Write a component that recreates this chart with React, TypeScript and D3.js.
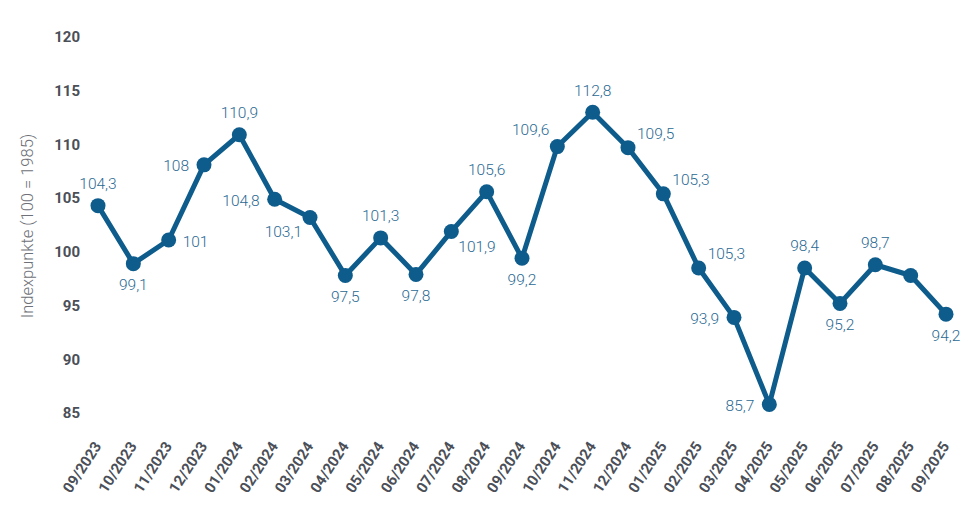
import React, { useEffect, useRef } from "react";
import * as d3 from "d3";

const months = [
  "09/2023", "10/2023", "11/2023", "12/2023", "01/2024", "02/2024", "03/2024",
  "04/2024", "05/2024", "06/2024", "07/2024", "08/2024", "09/2024", "10/2024",
  "11/2024", "12/2024", "01/2025", "02/2025", "03/2025", "04/2025", "05/2025",
  "06/2025", "07/2025", "08/2025", "09/2025",
];
const values = [
  104.3, 98.9, 101.1, 108.1, 110.9, 104.9, 103.2, 97.8, 101.3, 97.9, 101.9,
  105.6, 99.4, 109.8, 113.0, 109.7, 105.4, 98.5, 93.9, 85.8, 98.5, 95.2, 98.8,
  97.8, 94.2,
];
const labels = [
  "104,3", "99,1", "101", "108", "110,9", "104,8", "103,1", "97,5", "101,3",
  "97,8", "101,9", "105,6", "99,2", "109,6", "112,8", "109,5", "105,3", "105,3",
  "93,9", "85,7", "98,4", "95,2", "98,7", "", "94,2",
];
const placement = [
  "t", "b", "r", "l", "t", "l", "bl", "b", "t", "b", "br", "t", "b", "tl",
  "t", "tr", "tr", "tr", "l", "l", "t", "b", "t", "", "b",
];
const yTicks = [85, 90, 95, 100, 105, 110, 115, 120];

const place: Record<string, [number, number, string]> = {
  t: [0, -22, "middle"],
  b: [0, 21, "middle"],
  l: [-15, 1, "end"],
  r: [14, 2, "start"],
  tl: [-8, -17, "end"],
  tr: [9, -14, "start"],
  bl: [-8, 14, "end"],
  br: [7, 15, "start"],
};

const W = 975;
const H = 526;
const lineColor = "#0d5c8c";
const tickColor = "#4b4f58";

export default function App() {
  const ref = useRef<SVGSVGElement>(null);
  useEffect(() => {
    const svg = d3.select(ref.current);
    svg.selectAll("*").remove();
    const x = d3.scalePoint<string>().domain(months).range([98, 946]);
    const y = d3.scaleLinear().domain([85, 120]).range([413, 37]);

    // y ticks
    svg.append("g")
      .selectAll("text")
      .data(yTicks)
      .join("text")
      .attr("x", 80)
      .attr("y", d => y(d))
      .attr("dy", "0.35em")
      .attr("text-anchor", "end")
      .attr("font-family", "Roboto, sans-serif")
      .attr("font-weight", 700)
      .attr("font-size", 15)
      .attr("fill", tickColor)
      .text(d => d);

    // y title
    svg.append("text")
      .attr("transform", `translate(27,226) rotate(-90)`)
      .attr("text-anchor", "middle")
      .attr("dy", "0.35em")
      .attr("font-family", "Roboto, sans-serif")
      .attr("font-weight", 300)
      .attr("font-size", 16.5)
      .attr("fill", "#6e7178")
      .text("Indexpunkte (100 = 1985)");

    // x ticks
    svg.append("g")
      .selectAll("text")
      .data(months)
      .join("text")
      .attr("transform", d => `translate(${(x(d) as number) + 4},446) rotate(-57)`)
      .attr("text-anchor", "end")
      .attr("font-family", "Roboto, sans-serif")
      .attr("font-weight", 700)
      .attr("font-size", 15)
      .attr("fill", tickColor)
      .text(d => d);

    const line = d3.line<number>()
      .x((d, i) => x(months[i]) as number)
      .y(d => y(d));

    svg.append("path")
      .attr("d", line(values))
      .attr("fill", "none")
      .attr("stroke", lineColor)
      .attr("stroke-width", 5)
      .attr("stroke-linejoin", "round");

    svg.append("g")
      .selectAll("circle")
      .data(values)
      .join("circle")
      .attr("cx", (d, i) => x(months[i]) as number)
      .attr("cy", d => y(d))
      .attr("r", 7.5)
      .attr("fill", lineColor);

    const idx = d3.range(values.length).filter(i => labels[i] !== "");
    svg.append("g")
      .selectAll("text")
      .data(idx)
      .join("text")
      .attr("x", i => (x(months[i]) as number) + place[placement[i]][0])
      .attr("y", i => y(values[i]) + place[placement[i]][1])
      .attr("dy", "0.35em")
      .attr("text-anchor", i => place[placement[i]][2])
      .attr("font-family", "Roboto, sans-serif")
      .attr("font-weight", 300)
      .attr("font-size", 15.5)
      .attr("fill", "#2b6a93")
      .text(i => labels[i]);
  }, []);
  return (
    <svg
      ref={ref}
      width={W}
      height={H}
      style={{ position: "absolute", left: 0, top: 0, background: "#fff" }}
    />
  );
}
